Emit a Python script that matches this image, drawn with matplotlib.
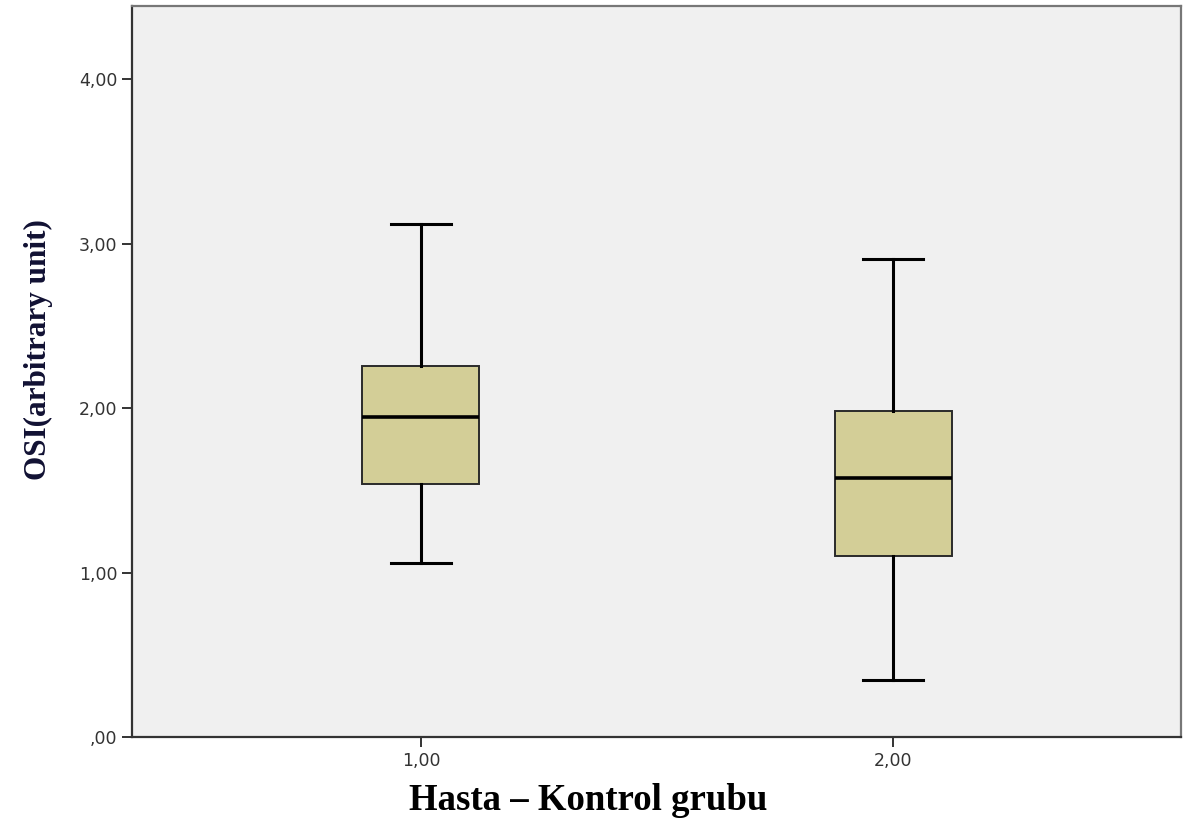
import matplotlib.pyplot as plt

# group codes and five-number summaries for OSI
groups = [1.0, 2.0]
whisker_low = [1.06, 0.347]
q1 = [1.538, 1.102]
median = [1.948, 1.574]
q3 = [2.256, 1.985]
whisker_high = [3.12, 2.906]

y_ticks = [0, 1, 2, 3, 4]


def comma_fmt(v):
    s = f"{v:.2f}".replace(".", ",")
    return s[1:] if s.startswith("0") else s


stats = []
for i in range(len(groups)):
    stats.append({"whislo": whisker_low[i], "q1": q1[i], "med": median[i],
                  "q3": q3[i], "whishi": whisker_high[i], "fliers": []})

fig = plt.figure(figsize=(11.84, 8.24), dpi=100)
ax = fig.add_axes([0.1115, 0.1056, 0.886, 0.8871])
ax.set_facecolor("#f0f0f0")

ax.bxp(stats, positions=groups, widths=0.248, patch_artist=True,
       showfliers=False,
       boxprops=dict(facecolor="#d3ce97", edgecolor="#2a2a2a", linewidth=1.4),
       medianprops=dict(color="black", linewidth=2.6),
       whiskerprops=dict(color="black", linewidth=2.2),
       capprops=dict(color="black", linewidth=2.2),
       capwidths=0.127)

ax.set_xlim(0.388, 2.61)
ax.set_ylim(0, 4.445)
ax.set_xticks(groups, labels=[comma_fmt(g) for g in groups])
ax.set_yticks(y_ticks, labels=[comma_fmt(v) for v in y_ticks])
ax.tick_params(axis="both", labelsize=12.5, labelcolor="#333333",
               color="#333333", length=7, width=1.4, direction="out")

for side in ["left", "bottom"]:
    ax.spines[side].set_color("#333333")
    ax.spines[side].set_linewidth(1.6)
for side in ["top", "right"]:
    ax.spines[side].set_color("#777777")
    ax.spines[side].set_linewidth(1.6)

ax.set_ylabel("OSI(arbitrary unit)", family="Liberation Serif",
              fontweight="bold", fontsize=22.5, color="#111133")
ax.yaxis.set_label_coords(-0.075, 0.53)
ax.set_xlabel("Hasta \u2013 Kontrol grubu", family="Liberation Serif",
              fontweight="bold", fontsize=26.5, color="black")
ax.xaxis.set_label_coords(0.435, -0.063)

plt.savefig("out.png", dpi=100)
